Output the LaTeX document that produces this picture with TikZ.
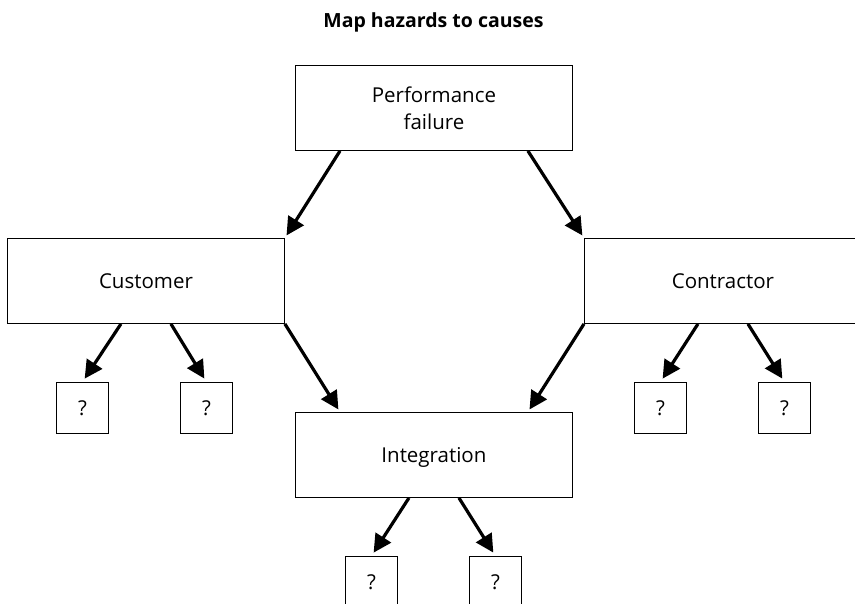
\documentclass[tikz,border=0pt]{standalone}
\usepackage{fontspec}
\setmainfont{Open Sans}
\usetikzlibrary{arrows.meta,calc}
\begin{document}
\begin{tikzpicture}[x=1pt,y=-1pt,
  bigbox/.style={draw, line width=0.9pt, minimum width=277pt, minimum height=85pt,
    inner sep=0pt, anchor=north west, align=center, text depth=0pt,
    font=\fontsize{20.5}{27}\selectfont},
  qbox/.style={draw, line width=0.9pt, minimum width=52pt, minimum height=51pt,
    inner sep=0pt, anchor=north west, font=\fontsize{20.5}{27}\selectfont},
  arr/.style={line width=3.2pt, -{Triangle[length=18pt,width=18pt]}, shorten >=3pt},
  carr/.style={arr, shorten >=4pt}]
\useasboundingbox (0,0) rectangle (855,604);
\clip (0,0) rectangle (855,604);

\node[font=\bfseries\fontsize{19.5}{24}\selectfont, anchor=base] (title) at (433.5,28) {Map hazards to causes};

\node[bigbox] (perf) at (295,65) {Performance\\failure};
\node[bigbox] (cust) at (7,238) {Customer};
\node[bigbox] (contr) at (584,238) {Contractor};
\node[bigbox] (integ) at (295,412) {Integration};

\node[qbox] (c1) at (56,382) {?};
\node[qbox] (c2) at (180,382) {?};
\node[qbox] (k1) at (634,382) {?};
\node[qbox] (k2) at (758,382) {?};
\node[qbox] (i1) at (345,556) {?};
\node[qbox] (i2) at (469,556) {?};

\draw[arr] ($(perf.south west)+(45,0)$) -- (cust.north east);
\draw[arr] ($(perf.south east)+(-45,0)$) -- (contr.north west);
\draw[arr] (cust.south east) -- ($(integ.north west)+(45,0)$);
\draw[arr] (contr.south west) -- ($(integ.north east)+(-45,0)$);

\draw[carr] ($(cust.south)+(-25,0)$) -- (c1.north);
\draw[carr] ($(cust.south)+(25,0)$) -- (c2.north);
\draw[carr] ($(contr.south)+(-25,0)$) -- (k1.north);
\draw[carr] ($(contr.south)+(25,0)$) -- (k2.north);
\draw[carr] ($(integ.south)+(-25,0)$) -- (i1.north);
\draw[carr] ($(integ.south)+(25,0)$) -- (i2.north);
\end{tikzpicture}
\end{document}
